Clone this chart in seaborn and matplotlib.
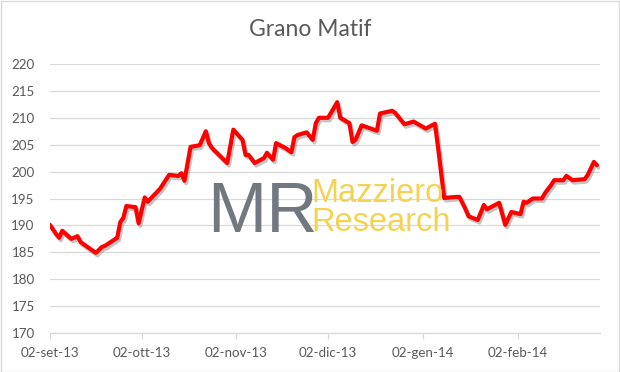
import matplotlib
matplotlib.use("Agg")
import matplotlib.pyplot as plt
import matplotlib.patheffects as pe
from matplotlib.patches import Rectangle
import seaborn as sns
import pandas as pd

# ---- data ----
dates = [
    "2013-09-02", "2013-09-04", "2013-09-05", "2013-09-06", "2013-09-09", "2013-09-11",
    "2013-09-12", "2013-09-17", "2013-09-19", "2013-09-20", "2013-09-24", "2013-09-25",
    "2013-09-26", "2013-09-27", "2013-09-30", "2013-10-01", "2013-10-03", "2013-10-04",
    "2013-10-07", "2013-10-08", "2013-10-11", "2013-10-14", "2013-10-15", "2013-10-16",
    "2013-10-18", "2013-10-21", "2013-10-23", "2013-10-24", "2013-10-25", "2013-10-30",
    "2013-11-01", "2013-11-04", "2013-11-05", "2013-11-06", "2013-11-08", "2013-11-11",
    "2013-11-12", "2013-11-14", "2013-11-15", "2013-11-18", "2013-11-20", "2013-11-21",
    "2013-11-22", "2013-11-25", "2013-11-27", "2013-11-28", "2013-11-29", "2013-12-02",
    "2013-12-05", "2013-12-06", "2013-12-09", "2013-12-10", "2013-12-11", "2013-12-13",
    "2013-12-18", "2013-12-19", "2013-12-23", "2013-12-24", "2013-12-27", "2013-12-30",
    "2014-01-03", "2014-01-06", "2014-01-07", "2014-01-09", "2014-01-13", "2014-01-14",
    "2014-01-16", "2014-01-17", "2014-01-20", "2014-01-22", "2014-01-23", "2014-01-27",
    "2014-01-29", "2014-01-31", "2014-02-03", "2014-02-04", "2014-02-05", "2014-02-07",
    "2014-02-10", "2014-02-11", "2014-02-13", "2014-02-14", "2014-02-17", "2014-02-18",
    "2014-02-20", "2014-02-24", "2014-02-25", "2014-02-27", "2014-02-28",
]
prices = [
    190.1, 188.4, 187.7, 189.0, 187.5, 188.0,
    186.9, 184.9, 186.0, 186.2, 187.7, 190.6,
    191.4, 193.6, 193.4, 190.4, 195.2, 194.4,
    196.2, 196.8, 199.4, 199.2, 199.7, 198.3,
    204.6, 204.9, 207.5, 205.3, 204.4, 201.6,
    207.8, 205.9, 203.1, 203.1, 201.6, 202.5,
    203.5, 202.2, 205.3, 204.4, 203.6, 206.4,
    206.8, 207.3, 205.9, 209.0, 210.0, 210.0,
    212.9, 210.0, 209.0, 205.5, 205.9, 208.6,
    207.6, 210.8, 211.3, 210.9, 208.8, 209.3,
    208.0, 208.9, 204.5, 195.1, 195.3, 195.3,
    193.0, 191.7, 191.0, 193.8, 193.0, 194.2,
    190.1, 192.5, 192.1, 194.4, 194.2, 195.0,
    195.0, 196.0, 197.5, 198.4, 198.4, 199.2,
    198.4, 198.6, 199.4, 201.8, 201.2,
]
tick_dates = ["2013-09-02", "2013-10-02", "2013-11-02", "2013-12-02", "2014-01-02", "2014-02-02"]
tick_labels = ["02-set-13", "02-ott-13", "02-nov-13", "02-dic-13", "02-gen-14", "02-feb-14"]
y_ticks = [170, 175, 180, 185, 190, 195, 200, 205, 210, 215, 220]
title = "Grano Matif"

df = pd.DataFrame({"data": pd.to_datetime(dates), "prezzo": prices})

sns.set_theme(style="white")
plt.rcParams["font.family"] = ["Lato", "DejaVu Sans"]

W, H = 620, 372
fig = plt.figure(figsize=(W / 100, H / 100), dpi=100)
fig.patch.set_facecolor("white")
ax = fig.add_axes([50 / W, 1 - 333 / H, 550 / W, 269 / H])

grey_txt = "#595959"
grid_c = "#d9d9d9"

sns.lineplot(data=df, x="data", y="prezzo", ax=ax, color="#ff0000", linewidth=3.0,
             zorder=5,
             path_effects=[pe.SimpleLineShadow(offset=(1.2, -1.8), shadow_color="#808080", alpha=0.45),
                           pe.Normal()])

ax.set_ylim(170, 220)
ax.set_yticks(y_ticks)
ax.set_xlim(pd.Timestamp("2013-09-02"), pd.Timestamp("2014-03-01"))
ax.set_xticks(pd.to_datetime(tick_dates))
ax.set_xticklabels(tick_labels)
ax.set_xlabel("")
ax.set_ylabel("")

ax.grid(axis="y", color=grid_c, linewidth=0.9)
ax.grid(axis="x", visible=False)
ax.set_axisbelow(True)
for s in ["top", "right", "left"]:
    ax.spines[s].set_visible(False)
ax.spines["bottom"].set_color(grid_c)
ax.spines["bottom"].set_linewidth(0.9)

ax.tick_params(axis="y", length=0, pad=11, labelsize=9.6, labelcolor=grey_txt)
ax.tick_params(axis="x", length=4, width=0.9, color=grid_c, direction="out",
               pad=6, labelsize=9.6, labelcolor=grey_txt, bottom=True)

fig.text(0.5, 1 - 30 / H, title, ha="center", va="center", fontsize=16.5, color=grey_txt)

# watermark logo text
fig.text(207 / W, 1 - 232 / H, "MR", ha="left", va="baseline", fontsize=51,
         color="#717880", family=["Liberation Sans", "DejaVu Sans"], zorder=3)
fig.text(311 / W, 1 - 231 / H, "Mazziero\nResearch", ha="left", va="baseline",
         fontsize=23.5, color="#f5d352", linespacing=0.9,
         family=["Liberation Sans", "DejaVu Sans"], zorder=3)

# chart border
fig.add_artist(Rectangle((0.5 / W, 0.5 / H), 1 - 1.5 / W, 1 - 1.5 / H, transform=fig.transFigure,
                         fill=False, edgecolor="#d9d9d9", linewidth=1.0))

fig.savefig("out.png", dpi=100)
